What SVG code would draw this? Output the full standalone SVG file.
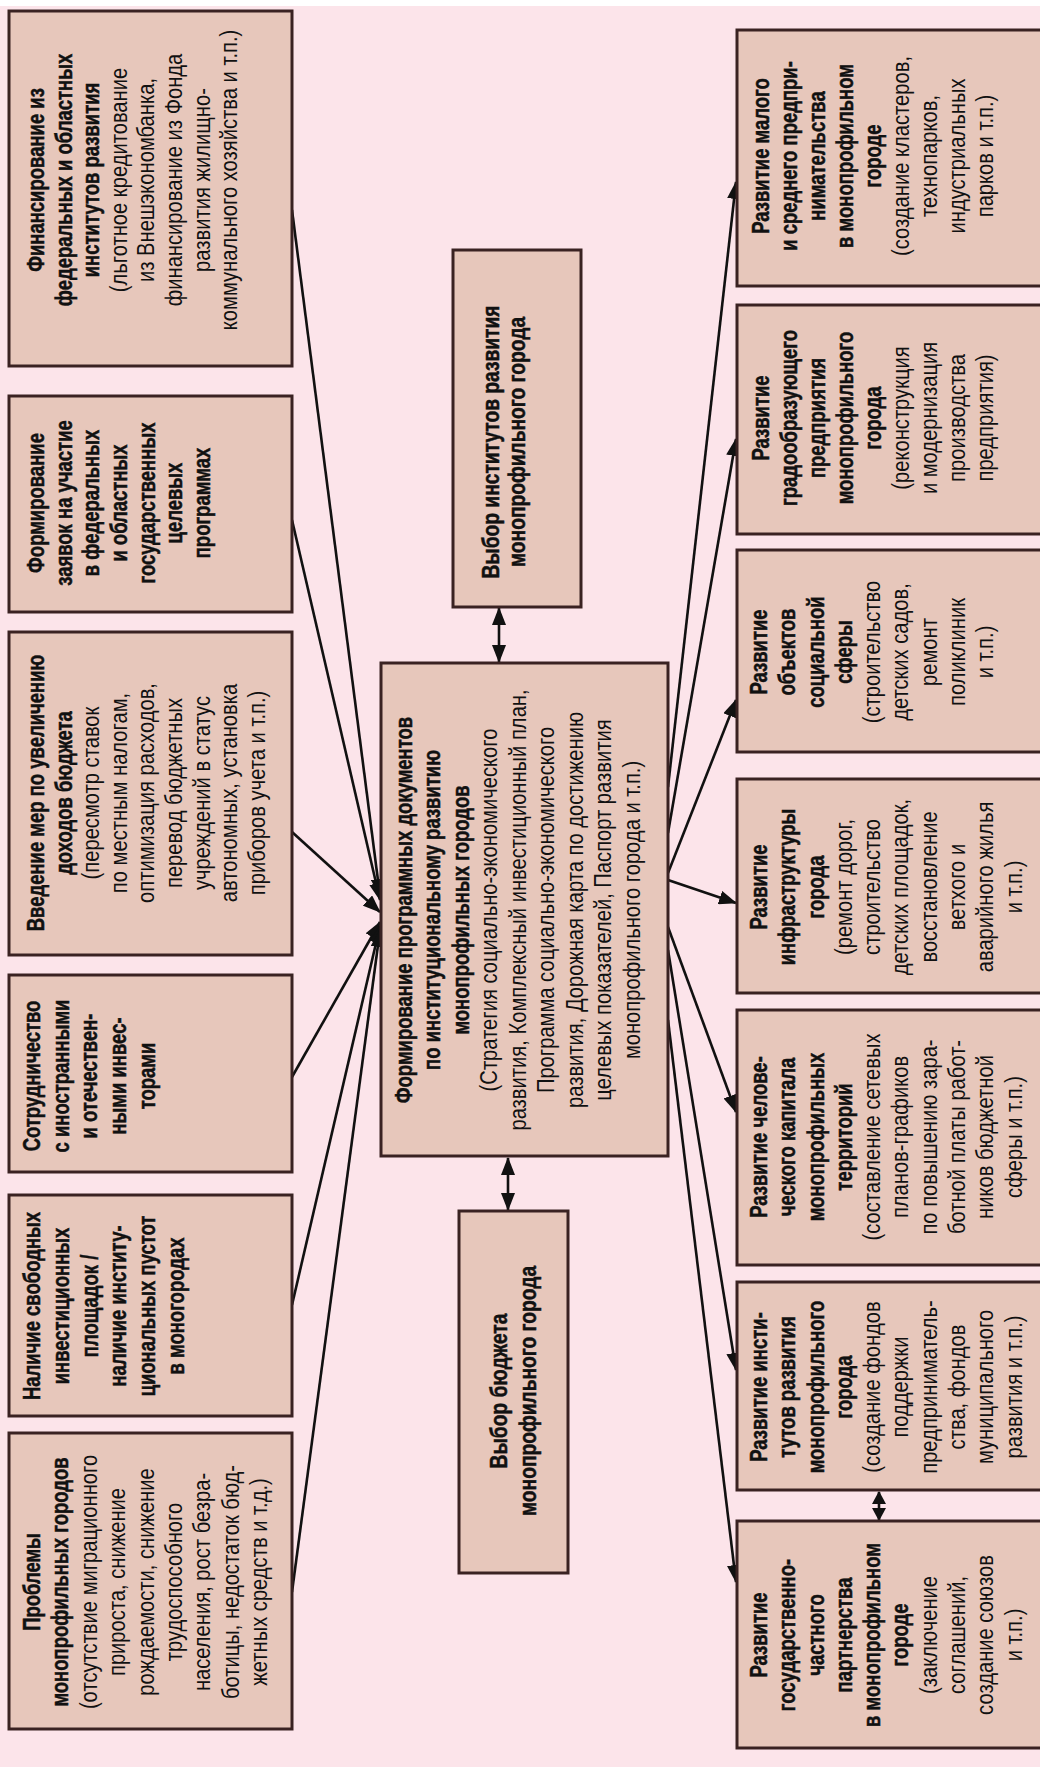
<svg xmlns="http://www.w3.org/2000/svg" width="1040" height="1767" viewBox="0 0 1040 1767">
<style>
.bg{fill:#fce4ea}
.box{fill:#e7c7bb;stroke:#3a2222;stroke-width:3}
text{font-family:"Liberation Sans","Arial",sans-serif;font-size:24px;fill:#111;text-anchor:middle}
.b text{font-weight:bold;stroke:#111;stroke-width:0.5}
.ln{fill:none;stroke:#111;stroke-width:2.6}
</style>
<defs>
<marker id="ah" markerWidth="18" markerHeight="14" refX="17" refY="7" orient="auto-start-reverse" markerUnits="userSpaceOnUse">
<path d="M0,0 L18,7 L0,14 z" fill="#111"/>
</marker>
<marker id="ahs" markerWidth="13" markerHeight="14" refX="12" refY="7" orient="auto-start-reverse" markerUnits="userSpaceOnUse">
<path d="M0,0 L13,7 L0,14 z" fill="#111"/>
</marker>
</defs>
<rect x="0" y="0" width="1040" height="1767" fill="#ffffff"/>
<rect class="bg" x="0" y="6" width="1040" height="1761"/>

<g id="connectors">
<line class="ln" x1="292" y1="210" x2="380" y2="896" marker-end="url(#ah)"/>
<line class="ln" x1="292" y1="520" x2="380" y2="900" marker-end="url(#ah)"/>
<line class="ln" x1="292" y1="832" x2="380" y2="912" marker-end="url(#ah)"/>
<line class="ln" x1="292" y1="1077" x2="380" y2="922" marker-end="url(#ah)"/>
<line class="ln" x1="292" y1="1305" x2="380" y2="926" marker-end="url(#ah)"/>
<line class="ln" x1="292" y1="1592" x2="380" y2="930" marker-end="url(#ah)"/>
<line class="ln" x1="668" y1="787" x2="736" y2="182" marker-end="url(#ah)"/>
<line class="ln" x1="668" y1="833" x2="736" y2="439" marker-end="url(#ah)"/>
<line class="ln" x1="668" y1="873" x2="736" y2="700" marker-end="url(#ah)"/>
<line class="ln" x1="668" y1="880" x2="736" y2="903" marker-end="url(#ah)"/>
<line class="ln" x1="668" y1="927" x2="736" y2="1112" marker-end="url(#ah)"/>
<line class="ln" x1="668" y1="950" x2="736" y2="1370" marker-end="url(#ah)"/>
<line class="ln" x1="668" y1="1020" x2="736" y2="1582" marker-end="url(#ah)"/>
<line class="ln" x1="499" y1="608" x2="499" y2="662" marker-start="url(#ah)" marker-end="url(#ah)"/>
<line class="ln" x1="508" y1="1158" x2="508" y2="1210" marker-start="url(#ah)" marker-end="url(#ah)"/>
<line class="ln" x1="879" y1="1492" x2="879" y2="1520" marker-start="url(#ahs)" marker-end="url(#ahs)"/>
</g>

<g id="n-fin">
<rect class="box" x="9" y="11" width="283" height="355"/>
<g transform="translate(0,180) rotate(-90)">
<g class="b" transform="scale(0.77,1)">
<text x="0" y="44">Финансирование из</text>
<text x="0" y="71.6">федеральных и областных</text>
<text x="0" y="99.2">институтов развития</text>
</g>
<g transform="scale(0.84,1)">
<text x="0" y="126.8">(льготное кредитование</text>
<text x="0" y="154.4">из Внешэкономбанка,</text>
<text x="0" y="182">финансирование из Фонда</text>
<text x="0" y="209.6">развития жилищно-</text>
<text x="0" y="237.2">коммунального хозяйства и т.п.)</text>
</g>
</g>
</g>

<g id="n-zayavki">
<rect class="box" x="9" y="396" width="283" height="216"/>
<g transform="translate(0,503) rotate(-90)">
<g class="b" transform="scale(0.77,1)">
<text x="0" y="44">Формирование</text>
<text x="0" y="71.7">заявок на участие</text>
<text x="0" y="99.4">в федеральных</text>
<text x="0" y="127.1">и областных</text>
<text x="0" y="154.8">государственных</text>
<text x="0" y="182.5">целевых</text>
<text x="0" y="210.2">программах</text>
</g>
</g>
</g>

<g id="n-dohody">
<rect class="box" x="9" y="632" width="283" height="323"/>
<g transform="translate(0,793) rotate(-90)">
<g class="b" transform="scale(0.77,1)">
<text x="0" y="44">Введение мер по увеличению</text>
<text x="0" y="71.6">доходов бюджета</text>
</g>
<g transform="scale(0.84,1)">
<text x="0" y="99.2">(пересмотр ставок</text>
<text x="0" y="126.8">по местным налогам,</text>
<text x="0" y="154.4">оптимизация расходов,</text>
<text x="0" y="182">перевод бюджетных</text>
<text x="0" y="209.6">учреждений в статус</text>
<text x="0" y="237.2">автономных, установка</text>
<text x="0" y="264.8">приборов учета и т.п.)</text>
</g>
</g>
</g>

<g id="n-invest">
<rect class="box" x="9" y="975" width="283" height="197"/>
<g transform="translate(0,1076) rotate(-90)">
<g class="b" transform="scale(0.77,1)">
<text x="0" y="40">Сотрудничество</text>
<text x="0" y="68.7">с иностранными</text>
<text x="0" y="97.4">и отечествен-</text>
<text x="0" y="126.1">ными инвес-</text>
<text x="0" y="154.8">торами</text>
</g>
</g>
</g>

<g id="n-ploshchadki">
<rect class="box" x="9" y="1195" width="283" height="221"/>
<g transform="translate(0,1306) rotate(-90)">
<g class="b" transform="scale(0.77,1)">
<text x="0" y="40">Наличие свободных</text>
<text x="0" y="68.8">инвестиционных</text>
<text x="0" y="97.6">площадок /</text>
<text x="0" y="126.4">наличие институ-</text>
<text x="0" y="155.2">циональных пустот</text>
<text x="0" y="184">в моногородах</text>
</g>
</g>
</g>

<g id="n-problemy">
<rect class="box" x="9" y="1433" width="283" height="296"/>
<g transform="translate(0,1582) rotate(-90)">
<g class="b" transform="scale(0.77,1)">
<text x="0" y="40">Проблемы</text>
<text x="0" y="68.4">монопрофильных городов</text>
</g>
<g transform="scale(0.84,1)">
<text x="0" y="96.8">(отсутствие миграционного</text>
<text x="0" y="125.2">прироста, снижение</text>
<text x="0" y="153.6">рождаемости, снижение</text>
<text x="0" y="182">трудоспособного</text>
<text x="0" y="210.4">населения, рост безра-</text>
<text x="0" y="238.8">ботицы, недостаток бюд-</text>
<text x="0" y="267.2">жетных средств и т.д.)</text>
</g>
</g>
</g>

<g id="n-vybor-inst">
<rect class="box" x="453" y="250" width="128" height="357"/>
<g transform="translate(0,442) rotate(-90)">
<g class="b" transform="scale(0.8,1)">
<text x="0" y="499">Выбор институтов развития</text>
<text x="0" y="525">монопрофильного города</text>
</g>
</g>
</g>

<g id="n-center">
<rect class="box" x="381" y="663" width="287" height="493"/>
<g transform="translate(0,910) rotate(-90)">
<g class="b" transform="scale(0.77,1)">
<text x="0" y="412">Формирование программных документов</text>
<text x="0" y="440.5">по институциональному развитию</text>
<text x="0" y="469">монопрофильных городов</text>
</g>
<g transform="scale(0.84,1)">
<text x="0" y="497.5">(Стратегия социально-экономического</text>
<text x="0" y="526">развития, Комплексный инвестиционный план,</text>
<text x="0" y="554.5">Программа социально-экономического</text>
<text x="0" y="583">развития, Дорожная карта по достижению</text>
<text x="0" y="611.5">целевых показателей, Паспорт развития</text>
<text x="0" y="640">монопрофильного города и т.п.)</text>
</g>
</g>
</g>

<g id="n-vybor-budget">
<rect class="box" x="459" y="1211" width="109" height="362"/>
<g transform="translate(0,1391) rotate(-90)">
<g class="b" transform="scale(0.8,1)">
<text x="0" y="507">Выбор бюджета</text>
<text x="0" y="536">монопрофильного города</text>
</g>
</g>
</g>

<g id="n-msp">
<rect class="box" x="737" y="30" width="310" height="256"/>
<g transform="translate(0,156) rotate(-90)">
<g class="b" transform="scale(0.77,1)">
<text x="0" y="769">Развитие малого</text>
<text x="0" y="797">и среднего предпри-</text>
<text x="0" y="825">нимательства</text>
<text x="0" y="853">в монопрофильном</text>
<text x="0" y="881">городе</text>
</g>
<g transform="scale(0.84,1)">
<text x="0" y="909">(создание кластеров,</text>
<text x="0" y="937">технопарков,</text>
<text x="0" y="965">индустриальных</text>
<text x="0" y="993">парков и т.п.)</text>
</g>
</g>
</g>

<g id="n-gradoobr">
<rect class="box" x="737" y="305" width="310" height="229"/>
<g transform="translate(0,418) rotate(-90)">
<g class="b" transform="scale(0.77,1)">
<text x="0" y="769">Развитие</text>
<text x="0" y="797">градообразующего</text>
<text x="0" y="825">предприятия</text>
<text x="0" y="853">монопрофильного</text>
<text x="0" y="881">города</text>
</g>
<g transform="scale(0.84,1)">
<text x="0" y="909">(реконструкция</text>
<text x="0" y="937">и модернизация</text>
<text x="0" y="965">производства</text>
<text x="0" y="993">предприятия)</text>
</g>
</g>
</g>

<g id="n-social">
<rect class="box" x="737" y="550" width="310" height="202"/>
<g transform="translate(0,652) rotate(-90)">
<g class="b" transform="scale(0.77,1)">
<text x="0" y="767">Развитие</text>
<text x="0" y="795.3">объектов</text>
<text x="0" y="823.6">социальной</text>
<text x="0" y="851.9">сферы</text>
</g>
<g transform="scale(0.84,1)">
<text x="0" y="880.2">(строительство</text>
<text x="0" y="908.5">детских садов,</text>
<text x="0" y="936.8">ремонт</text>
<text x="0" y="965.1">поликлиник</text>
<text x="0" y="993.4">и т.п.)</text>
</g>
</g>
</g>

<g id="n-infra">
<rect class="box" x="737" y="779" width="310" height="214"/>
<g transform="translate(0,887) rotate(-90)">
<g class="b" transform="scale(0.77,1)">
<text x="0" y="767">Развитие</text>
<text x="0" y="795.3">инфраструктуры</text>
<text x="0" y="823.6">города</text>
</g>
<g transform="scale(0.84,1)">
<text x="0" y="851.9">(ремонт дорог,</text>
<text x="0" y="880.2">строительство</text>
<text x="0" y="908.5">детских площадок,</text>
<text x="0" y="936.8">восстановление</text>
<text x="0" y="965.1">ветхого и</text>
<text x="0" y="993.4">аварийного жилья</text>
<text x="0" y="1021.7">и т.п.)</text>
</g>
</g>
</g>

<g id="n-human">
<rect class="box" x="737" y="1010" width="310" height="255"/>
<g transform="translate(0,1137) rotate(-90)">
<g class="b" transform="scale(0.77,1)">
<text x="0" y="767">Развитие челове-</text>
<text x="0" y="795.3">ческого капитала</text>
<text x="0" y="823.6">монопрофильных</text>
<text x="0" y="851.9">территорий</text>
</g>
<g transform="scale(0.84,1)">
<text x="0" y="880.2">(составление сетевых</text>
<text x="0" y="908.5">планов-графиков</text>
<text x="0" y="936.8">по повышению зара-</text>
<text x="0" y="965.1">ботной платы работ-</text>
<text x="0" y="993.4">ников бюджетной</text>
<text x="0" y="1021.7">сферы и т.п.)</text>
</g>
</g>
</g>

<g id="n-institutes">
<rect class="box" x="737" y="1282" width="310" height="208"/>
<g transform="translate(0,1387) rotate(-90)">
<g class="b" transform="scale(0.77,1)">
<text x="0" y="767">Развитие инсти-</text>
<text x="0" y="795.3">тутов развития</text>
<text x="0" y="823.6">монопрофильного</text>
<text x="0" y="851.9">города</text>
</g>
<g transform="scale(0.84,1)">
<text x="0" y="880.2">(создание фондов</text>
<text x="0" y="908.5">поддержки</text>
<text x="0" y="936.8">предприниматель-</text>
<text x="0" y="965.1">ства, фондов</text>
<text x="0" y="993.4">муниципального</text>
<text x="0" y="1021.7">развития и т.п.)</text>
</g>
</g>
</g>

<g id="n-gchp">
<rect class="box" x="737" y="1521" width="310" height="227"/>
<g transform="translate(0,1635) rotate(-90)">
<g class="b" transform="scale(0.77,1)">
<text x="0" y="767">Развитие</text>
<text x="0" y="795.3">государственно-</text>
<text x="0" y="823.6">частного</text>
<text x="0" y="851.9">партнерства</text>
<text x="0" y="880.2">в монопрофильном</text>
<text x="0" y="908.5">городе</text>
</g>
<g transform="scale(0.84,1)">
<text x="0" y="936.8">(заключение</text>
<text x="0" y="965.1">соглашений,</text>
<text x="0" y="993.4">создание союзов</text>
<text x="0" y="1021.7">и т.п.)</text>
</g>
</g>
</g>
</svg>
